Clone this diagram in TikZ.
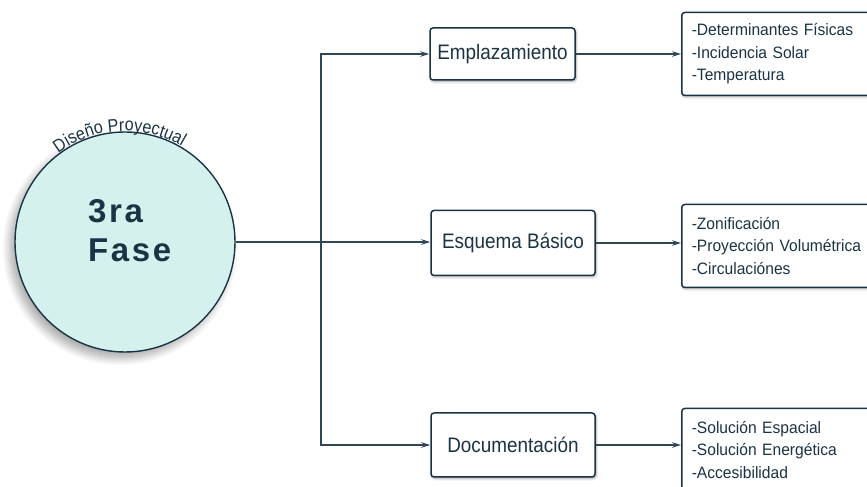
\documentclass[tikz,border=0pt]{standalone}
\usepackage{fontspec}
\setmainfont{Liberation Sans}
\newfontfamily\boxfont[FakeStretch=0.9]{Liberation Sans}
\newfontfamily\listfont[FakeStretch=0.945]{Liberation Sans}
\newfontfamily\phasefont[LetterSpace=8]{Liberation Sans}
\usetikzlibrary{arrows,arrows.meta,positioning,shadows.blur,decorations.text}
\definecolor{navy}{HTML}{1B3445}
\definecolor{wire}{HTML}{2E4656}
\definecolor{mint}{HTML}{D5F1EE}

\begin{document}
\begin{tikzpicture}[x=1pt,y=1pt,>={Stealth[length=9pt,width=5.5pt]},
    phase node/.style={circle,draw=navy,line width=1.4pt,fill=mint,minimum size=220pt,inner sep=0pt,
      blur shadow={shadow xshift=-5pt,shadow yshift=-6pt,shadow blur radius=8pt,shadow blur steps=12,shadow opacity=35}},
    stage node/.style={rectangle,rounded corners=3pt,draw=navy,line width=1.5pt,fill=white,text=navy,
      font=\boxfont\fontsize{21}{24}\selectfont,
      blur shadow={shadow xshift=1pt,shadow yshift=-1.5pt,shadow blur radius=2.5pt,shadow blur steps=6,shadow opacity=35}},
    list node/.style={rectangle,rounded corners=3pt,draw=navy,line width=1.5pt,fill=white,text=navy,
      text width=180pt,inner xsep=10pt,align=left,minimum height=83pt,anchor=west,
      font=\listfont\fontsize{16.5}{22.5}\selectfont,
      blur shadow={shadow xshift=1pt,shadow yshift=-1.5pt,shadow blur radius=2.5pt,shadow blur steps=6,shadow opacity=35}},
    link/.style={->,draw=wire,line width=1.2pt}]
  \useasboundingbox (0,0) rectangle (867,487);
  \clip (0,0) rectangle (867,487);

  % fase
  \node[phase node] (fase) at (125,245) {};
  \node[anchor=west,inner sep=0pt,align=left,text=navy,font=\phasefont\bfseries\fontsize{33}{39}\selectfont] (fasetxt) at (88,256) {3ra\\Fase};
  \path[decorate,decoration={text along path,text align=center,text color=navy,
      text={|\boxfont\fontsize{18}{18}\selectfont|Diseño Proyectual}}]
    (fase.center) ++(140:111) arc[start angle=140,end angle=46,radius=111];

  % etapas
  \node[stage node,minimum width=145pt,minimum height=52pt] (empl) at (502.5,433) {Emplazamiento};
  \node[stage node,minimum width=164pt,minimum height=65pt] (esq) at (513,244) {Esquema Básico};
  \node[stage node,minimum width=164pt,minimum height=64pt] (doc) at (513,42) {Documentación};

  % listas
  \node[list node] (emplist) at (681,433) {-Determinantes Físicas\\-Incidencia Solar\\-Temperatura};
  \node[list node] (esqlist) at (681,241) {-Zonificación\\-Proyección Volumétrica\\-Circulaciónes};
  \node[list node] (doclist) at (681,37) {-Solución Espacial\\-Solución Energética\\-Accesibilidad};

  % conectores
  \coordinate (hub) at (321,245);
  \draw[link] (fase.east) -- (fase.east -| esq.west);
  \draw[link] (hub) |- (empl.west);
  \draw[link] (hub) |- (doc.west);
  \draw[link] (empl.east) -- (empl.east -| emplist.west);
  \draw[link] (esq.east) -- (esq.east -| esqlist.west);
  \draw[link] (doc.east) -- (doc.east -| doclist.west);
\end{tikzpicture}
\end{document}
